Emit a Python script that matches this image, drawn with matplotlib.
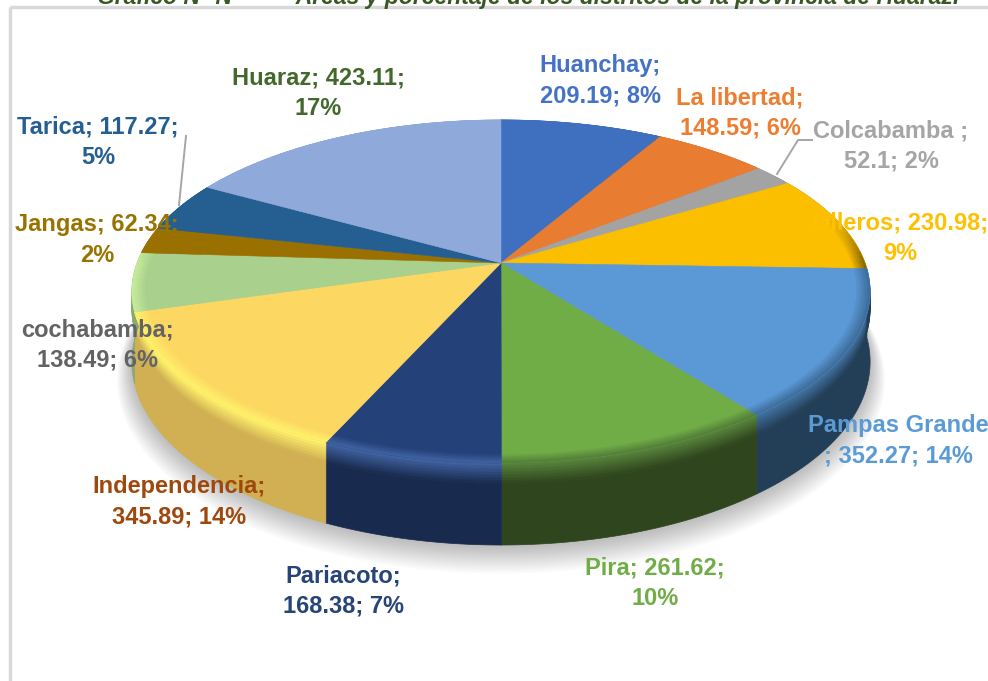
import numpy as np
import matplotlib
matplotlib.use("Agg")
import matplotlib.pyplot as plt
from matplotlib.collections import PolyCollection
from matplotlib.colors import to_rgb

names = ["Huanchay", "La libertad", "Colcabamba ", "Olleros", "Pampas Grande", "Pira",
         "Pariacoto", "Independencia", "cochabamba", "Jangas", "Tarica", "Huaraz"]
areas = [209.19, 148.59, 52.1, 230.98, 352.27, 261.62, 168.38, 345.89, 138.49, 62.34, 117.27, 423.11]

# colours of the slices
top_cols = ["#3f6fbf", "#e87c30", "#a3a3a3", "#fbbf00", "#5b98d6", "#70ad47",
            "#24417a", "#fcd863", "#a9d08c", "#9a7000", "#255e91", "#8ea9da"]
rim_cols = ["#3f6fbf", "#e87c30", "#a3a3a3", "#8a6a00", "#3f6f9e", "#55803a",
            "#3f619f", "#fff06a", "#c4ea9a", "#9a7000", "#255e91", "#8ea9da"]
side_cols = ["#2c4f86", "#a55720", "#727272", "#8a6a00", "#233f58", "#2f451d",
             "#182a4e", "#d0b052", "#8aa872", "#6b4f00", "#1a4166", "#637696"]
text_cols = ["#4472c4", "#ed7d31", "#a5a5a5", "#ffc000", "#5b9bd5", "#70ad47",
             "#264478", "#9e480e", "#636363", "#997300", "#255e91", "#43682b"]

# label layout: where the line break goes and centre of the text in pixels
breaks = [1, 1, 1, 2, 0, 2, 1, 1, 1, 2, 2, 2]
label_xy = [(600, 81), (740, 113), (891, 146), (900, 238), (898, 441), (655, 583),
            (343, 591), (179, 502), (97, 345), (97, 240), (98, 142), (318, 93)]

# pie geometry in pixels
cx, cy = 501, 263
ax_x, ax_y = 364, 166.8
persp = 0.166
depth = 68.4


def project(theta, r=1.0, z=0.0):
    # theta clockwise from 12 o'clock, z goes down out of the top face
    u = r * np.sin(theta)
    v = r * np.cos(theta)
    w = 1 + persp * v
    return np.column_stack([cx + ax_x * u / w * np.ones_like(theta),
                            cy + (-ax_y * v + z) / w])


def blend(a, b, t):
    a, b = np.array(to_rgb(a)), np.array(to_rgb(b))
    return tuple(a + (b - a) * t)


fig = plt.figure(figsize=(9.88, 6.81), dpi=100)
ax = fig.add_axes([0, 0, 1, 1])
ax.set_xlim(0, 988)
ax.set_ylim(681, 0)
ax.axis("off")

# frame of the chart box
ax.plot([10, 10], [681, 7], color="#d9d9d9", lw=2.5, solid_capstyle="butt")
ax.plot([10, 988], [7, 7], color="#d9d9d9", lw=2.5, solid_capstyle="butt")

# soft shadow under the disc
full = np.linspace(0, 2 * np.pi, 241)
for i in range(14):
    pts = project(full, 1 + 0.003 * i, depth + 1 + 1.1 * i)
    ax.fill(pts[:, 0], pts[:, 1], color="#000000", alpha=0.018, lw=0, zorder=1)

fractions = np.array(areas) / sum(areas)
edges = np.concatenate([[0], np.cumsum(fractions)]) * 2 * np.pi

# side wall, with a lighter band just under the rim
polys, cols = [], []
bands = np.concatenate([np.linspace(0, 0.25, 8), [1.0]])
for i in range(len(areas)):
    th = np.linspace(edges[i], edges[i + 1], max(int((edges[i + 1] - edges[i]) * 60), 4))
    for b0, b1 in zip(bands[:-1], bands[1:]):
        upper = project(th, 1.0, b0 * depth)
        lower = project(th, 1.0, b1 * depth)
        polys.append(np.vstack([upper, lower[::-1]]))
        cols.append(blend(rim_cols[i], side_cols[i], min(b0 / 0.23, 1)))
ax.add_collection(PolyCollection(polys, facecolors=cols, edgecolors=cols, linewidths=0.5, zorder=2))

# top face
for i in range(len(areas)):
    th = np.linspace(edges[i], edges[i + 1], 80)
    pts = np.vstack([[cx, cy], project(th)])
    ax.fill(pts[:, 0], pts[:, 1], facecolor=top_cols[i], edgecolor=top_cols[i], lw=0.4, zorder=3)

# bevel ring on the face, fades out towards the back of the disc
polys, cols = [], []
rings = np.linspace(0.965, 1.0, 6)
for i in range(len(areas)):
    n = max(int((edges[i + 1] - edges[i]) * 40), 2)
    th = np.linspace(edges[i], edges[i + 1], n + 1)
    for t0, t1 in zip(th[:-1], th[1:]):
        strength = np.clip((0.3 - np.cos((t0 + t1) / 2)) / 0.3, 0, 1)
        seg = np.array([t0, t1])
        for k, (r0, r1) in enumerate(zip(rings[:-1], rings[1:])):
            polys.append(np.vstack([project(seg, r0), project(seg, r1)[::-1]]))
            cols.append(blend(top_cols[i], rim_cols[i], strength * (k + 1) / 5))
ax.add_collection(PolyCollection(polys, facecolors=cols, edgecolors=cols, linewidths=0.3, zorder=4))

# leader lines
ax.plot([186, 179], [136, 205], color="#a6a6a6", lw=1.4, zorder=5)
ax.plot([812, 798, 777], [140, 140, 174], color="#a6a6a6", lw=1.4, zorder=5)

# data labels
for i, name in enumerate(names):
    parts = [name + ";", f"{areas[i]:g};", f"{round(fractions[i] * 100)}%"]
    line1 = " ".join(parts[:breaks[i]])
    line2 = " ".join(parts[breaks[i]:])
    text = line1 + "\n" + line2 if line1 else line2
    if name == "Pampas Grande":
        text = "Pampas Grande\n; " + line2.split("; ", 1)[1]
    ax.text(label_xy[i][0], label_xy[i][1], text, color=text_cols[i], ha="center", va="center",
            family="Liberation Sans", weight="bold", fontsize=17, linespacing=1.42, zorder=6)

# title cut off by the crop of the page
ax.text(528, 4, "Gráfico N° N          Áreas y porcentaje de los distritos de la provincia de Huaraz.",
        color="#385723", ha="center", va="baseline", family="Liberation Sans", weight="bold",
        style="italic", fontsize=16.5, zorder=6)

fig.savefig("out.png", dpi=100)
